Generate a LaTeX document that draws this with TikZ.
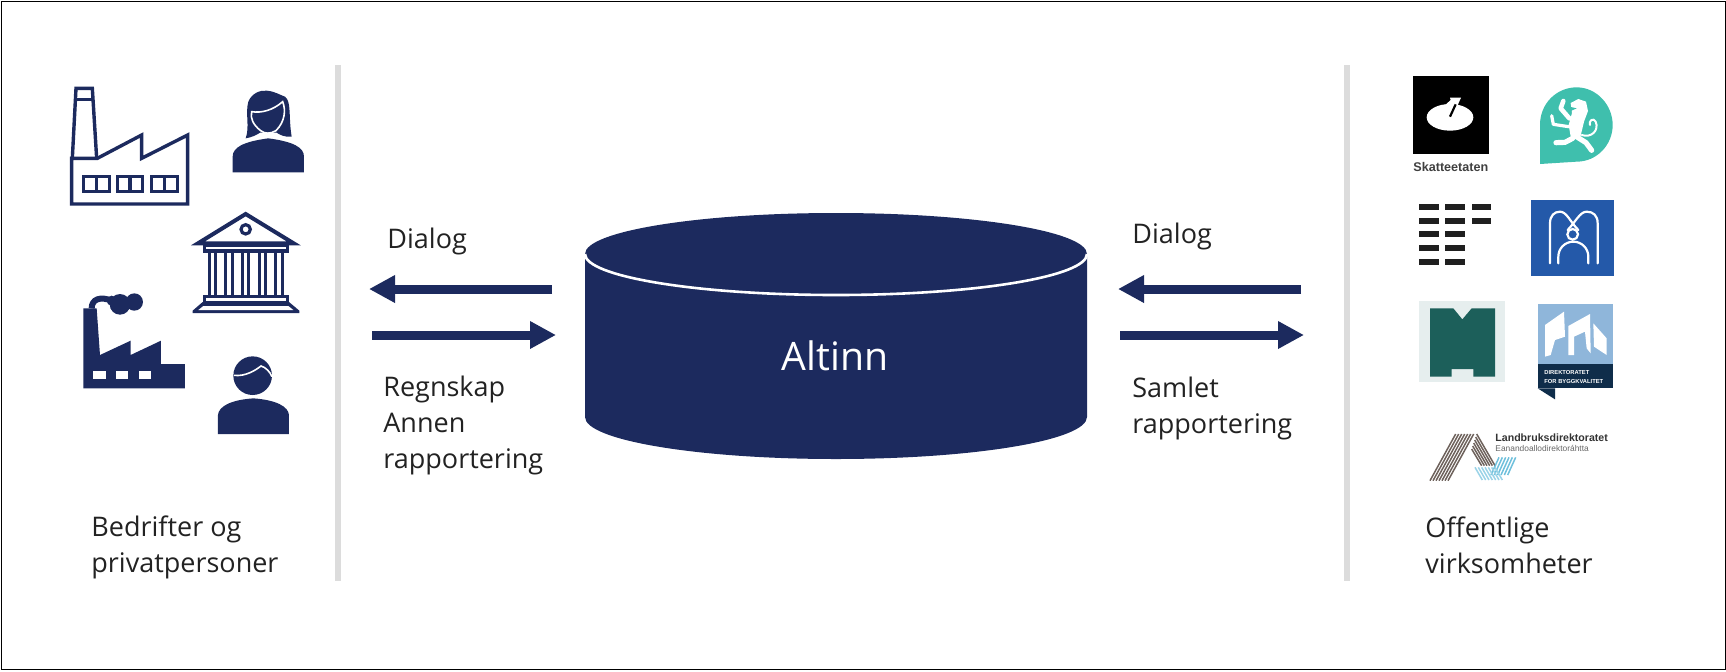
\documentclass[tikz,border=0pt]{standalone}
\usepackage{fontspec}
\setmainfont{Open Sans}
\newfontfamily\logofont{Liberation Sans}
\usetikzlibrary{arrows.meta}
\definecolor{navy}{HTML}{1C2A5E}
\definecolor{barg}{HTML}{DCDCDC}
\definecolor{txt}{HTML}{222222}
\definecolor{tealc}{HTML}{3FBFAD}
\definecolor{bluem}{HTML}{2459A9}
\definecolor{greenm}{HTML}{1C5F5A}
\definecolor{greenbg}{HTML}{E6EEEE}
\definecolor{lblue}{HTML}{8FB6DA}
\definecolor{dblue}{HTML}{0F2D4A}
\definecolor{brownl}{HTML}{6E625C}
\definecolor{cyanl}{HTML}{6FC0DC}
\tikzset{
  lab/.style={inner sep=0pt,anchor=base west,align=left,text=txt,font=\fontsize{13.5}{18}\selectfont},
  flow/.style={draw=navy,line width=4.5pt,-{Triangle[length=13pt,width=13pt,fill=navy]}},
  divider/.style={draw=barg,line width=3pt},
  line/.style={draw=navy,line width=1.7pt,line join=miter},
  logotext/.style={inner sep=0pt,anchor=base west,font=\logofont}
}
\begin{document}
\begin{tikzpicture}[x=0.5pt,y=-0.5pt]
\useasboundingbox (0,0) rectangle (1726,671);
\draw[black,line width=0.5pt] (1,1) rectangle (1725,669);
% dividers
\coordinate (dl1) at (338,65); \coordinate (dl2) at (338,581);
\coordinate (dr1) at (1347,65); \coordinate (dr2) at (1347,581);
\draw[divider] (dl1) -- (dl2);
\draw[divider] (dr1) -- (dr2);
% cylinder
\fill[navy] (585,254) -- (585,417) arc[start angle=180,end angle=360,x radius=125.5pt,y radius=21pt] -- (1087,254) arc[start angle=0,end angle=180,x radius=125.5pt,y radius=20.5pt] -- cycle;
\draw[white,line width=1.3pt] (585,254) arc[start angle=180,end angle=360,x radius=125.5pt,y radius=20.5pt];
\node[text=white,inner sep=0pt,anchor=base,font=\fontsize{19.6}{22}\selectfont] (altinn) at (835,370) {Altinn};
% arrows
\coordinate (a1s) at (552,289); \coordinate (a1e) at (369,289);
\coordinate (a2s) at (372,335); \coordinate (a2e) at (556,335);
\coordinate (a3s) at (1301,289); \coordinate (a3e) at (1118,289);
\coordinate (a4s) at (1120,335); \coordinate (a4e) at (1304,335);
\draw[flow] (a1s) -- (a1e);
\draw[flow] (a2s) -- (a2e);
\draw[flow] (a3s) -- (a3e);
\draw[flow] (a4s) -- (a4e);
% labels
\node[lab] (d1) at (387,248) {Dialog};
\node[lab] (r1) at (383,468) {Regnskap\\Annen\\rapportering};
\node[lab] (d2) at (1132,243) {Dialog};
\node[lab] (r2) at (1132,433) {Samlet\\rapportering};
\node[lab] (b1) at (91,572) {Bedrifter og\\privatpersoner};
\node[lab] (o1) at (1425,573) {Offentlige\\virksomheter};
% left icons
\begin{scope}[shift={(40,60)},scale=1/3]
  % outline factory
  \draw[line] (95,432) -- (95,295) -- (172,295) -- (305,225) -- (305,295) -- (443,225) -- (443,432) -- cycle;
  \draw[line] (97,295) -- (108,85) -- (157,85) -- (170,295);
  \draw[line] (107,118) -- (158,118);
  \foreach \xa/\xb in {130/208,232/308,335/412}{
    \draw[line] (\xa,350) rectangle (\xb,395);
    \draw[line] ({(\xa+\xb)/2},350) -- ({(\xa+\xb)/2},395);
  }
  % woman
  \fill[navy] (578,337) -- (578,290) .. controls (578,262) and (610,245) .. (685,235) .. controls (760,245) and (792,262) .. (792,290) -- (792,337) -- cycle;
  \fill[navy] (617,235) .. controls (630,200) and (615,160) .. (625,125) .. controls (635,100) and (660,90) .. (680,92) .. controls (705,94) and (720,105) .. (735,110) .. controls (755,125) and (745,170) .. (755,230) .. controls (735,232) and (720,225) .. (710,218) -- (660,218) .. controls (650,225) and (635,232) .. (617,235) -- cycle;
  \draw[white,line width=0.8pt] (635,155) .. controls (665,160) and (700,150) .. (728,125) .. controls (738,150) and (735,185) .. (708,212) .. controls (690,222) and (675,222) .. (662,212) .. controls (640,195) and (630,175) .. (635,155) -- cycle;
  % bank
  \draw[navy,line width=2pt,line join=miter] (474,550) -- (617,462) -- (761,550) -- cycle;
  \draw[navy,line width=1.6pt] (617,508) circle[radius=14];
  \fill[navy] (488,553) rectangle (747,578);
  \fill[white] (497,560) rectangle (738,568);
  \foreach \x in {503,553,603,653,703}{
    \fill[navy] (\x,578) rectangle (\x+28,706);
    \fill[white] (\x+9,578) rectangle (\x+19,706);
  }
  \fill[navy] (488,705) rectangle (747,726);
  \fill[white] (497,715) rectangle (738,722);
  \fill[navy] (488,726) -- (747,726) -- (778,752) -- (778,759) -- (458,759) -- (458,752) -- cycle;
  \fill[white] (490,738) -- (745,738) -- (760,750) -- (475,750) -- cycle;
  % solid factory
  \fill[navy] (130,985) -- (130,745) -- (170,745) -- (180,885) -- (272,842) -- (272,885) -- (363,842) -- (363,912) -- (435,912) -- (435,985) -- cycle;
  \foreach \x in {160,228,297}{\fill[white] (\x,932) rectangle (\x+37,958);}
  \draw[navy,line width=3pt] (155,745) .. controls (155,718) and (180,708) .. (215,722);
  \fill[navy] (240,733) circle[radius=31];
  \fill[navy] (283,726) circle[radius=26];
  \fill[navy] (215,722) circle[radius=15];
\end{scope}
% man
\begin{scope}[shift={(60,350)},scale=1/3]
  \fill[navy] (578,77) circle[radius=58];
  \draw[white,line width=0.8pt] (522,76) .. controls (555,80) and (585,62) .. (603,48) .. controls (618,52) and (630,66) .. (636,80);
  \fill[navy] (474,252) -- (474,195) .. controls (476,170) and (510,150) .. (580,145) .. controls (650,150) and (685,170) .. (687,195) -- (687,252) -- cycle;
\end{scope}
% logos upper
\begin{scope}[shift={(1400,60)},scale=1/3]
  \fill[black] (40,48) rectangle (266,283);
  \fill[white] (150,172) ellipse[x radius=70,y radius=40];
  \fill[white] (128,142) -- (152,120) -- (150,113) -- (183,113) -- (170,142) -- cycle;
  \draw[black,line width=1.1pt] (150,170) -- (167,133);
  \fill[tealc] (420,312) -- (420,195) .. controls (420,130) and (470,82) .. (530,82) .. controls (590,82) and (638,135) .. (638,195) .. controls (638,255) and (590,305) .. (530,305) -- cycle;
  \foreach \x in {57,135}{\foreach \y in {432,474,514,555,596}{\fill[black!88] (\x,\y) rectangle (\x+59,\y+18);}}
  \foreach \y in {432,474}{\fill[black!88] (215,\y) rectangle (272,\y+18);}
  \fill[bluem] (393,420) rectangle (641,647);
\end{scope}
\node[logotext,text=black!75,font=\logofont\fontsize{6.3}{8}\selectfont\bfseries] (ska) at (1413,171) {Skatteetaten};
% lion
\begin{scope}[shift={(1530,75)},scale=1/3,white,line cap=round,line join=round]
  \fill (122,84) -- (145,72) -- (168,80) -- (174,108) -- (162,140) -- (152,182) -- (124,196) -- (116,150) -- (126,114) -- cycle;
  \draw[line width=2.3pt] (100,78) -- (92,100) -- (118,130);
  \draw[line width=1.6pt] (65,122) -- (70,148) -- (116,155);
  \draw[line width=2.6pt] (128,190) -- (105,202) -- (78,203);
  \draw[line width=2.6pt] (138,184) -- (168,203) -- (185,226);
  \draw[line width=1pt] (155,180) .. controls (185,190) and (208,165) .. (197,140) .. controls (190,126) and (175,138) .. (180,150);
  \fill[tealc] (114,94) -- (140,100) -- (118,110) -- cycle;
\end{scope}
% blue logo
\begin{scope}[shift={(1525,195)},scale=1/3,white,line width=1.1pt,line cap=round]
  \draw (75,205) -- (75,85) .. controls (75,62) and (88,50) .. (105,50) .. controls (125,50) and (135,80) .. (160,105);
  \draw (218,205) -- (218,85) .. controls (218,62) and (205,50) .. (185,50) .. controls (165,50) and (152,80) .. (128,105);
  \draw (143,118) circle[radius=16];
  \draw (100,205) -- (100,185) .. controls (100,160) and (120,140) .. (145,140) .. controls (170,140) and (190,160) .. (190,185) -- (190,205);
\end{scope}
% lower logos
\begin{scope}[shift={(1400,290)},scale=1/3]
  \fill[greenbg] (57,33) rectangle (315,275);
  \fill[greenm] (90,55) -- (160,55) -- (187,88) -- (215,55) -- (285,55) -- (285,260) -- (220,260) -- (220,237) -- (155,237) -- (155,260) -- (90,260) -- cycle;
  \fill[lblue] (413,43) rectangle (640,222);
  \fill[dblue] (413,222) rectangle (640,295);
  \fill[dblue] (413,295) -- (465,295) -- (465,328) -- cycle;
  \fill[white] (435,200) -- (435,105) -- (492,65) -- (495,140) -- (465,150) -- (452,195) -- cycle;
  \fill[white] (505,195) -- (505,108) -- (570,72) -- (572,190) -- (560,175) -- (555,125) -- (522,140) -- (522,195) -- cycle;
  \fill[white] (580,100) -- (620,145) -- (620,195) -- (582,170) -- cycle;
\end{scope}
\node[logotext,text=white,font=\logofont\fontsize{2.9}{4.5}\selectfont\bfseries,align=left] (dby) at (1544,383) {DIREKTORATET\\FOR BYGGKVALITET};
% landbruk
\begin{scope}[shift={(1425,425)},scale=1/3,line width=0.75pt]
  \foreach \i in {0,...,6}{\draw[brownl] (15+9*\i,167) -- (92+9*\i,27);}
  \foreach \i in {0,...,5}{\draw[brownl] (155-3*\i,27+9*\i) -- (210-8*\i,122);}
  \foreach \i in {0,...,5}{\draw[cyanl] (222+10*\i,97) -- (198+10*\i,150);}
  \foreach \i in {0,...,6}{\draw[cyanl!70] (150+10*\i,127) -- (172+10*\i,165);}
\end{scope}
\node[logotext,text=black!80,font=\logofont\fontsize{5.3}{6}\selectfont\bfseries] (lan) at (1495,441) {Landbruksdirektoratet};
\node[logotext,text=black!60,font=\logofont\fontsize{4.2}{5}\selectfont] (ean) at (1495,451) {Eanandoallodirektoráhtta};
\end{tikzpicture}
\end{document}
